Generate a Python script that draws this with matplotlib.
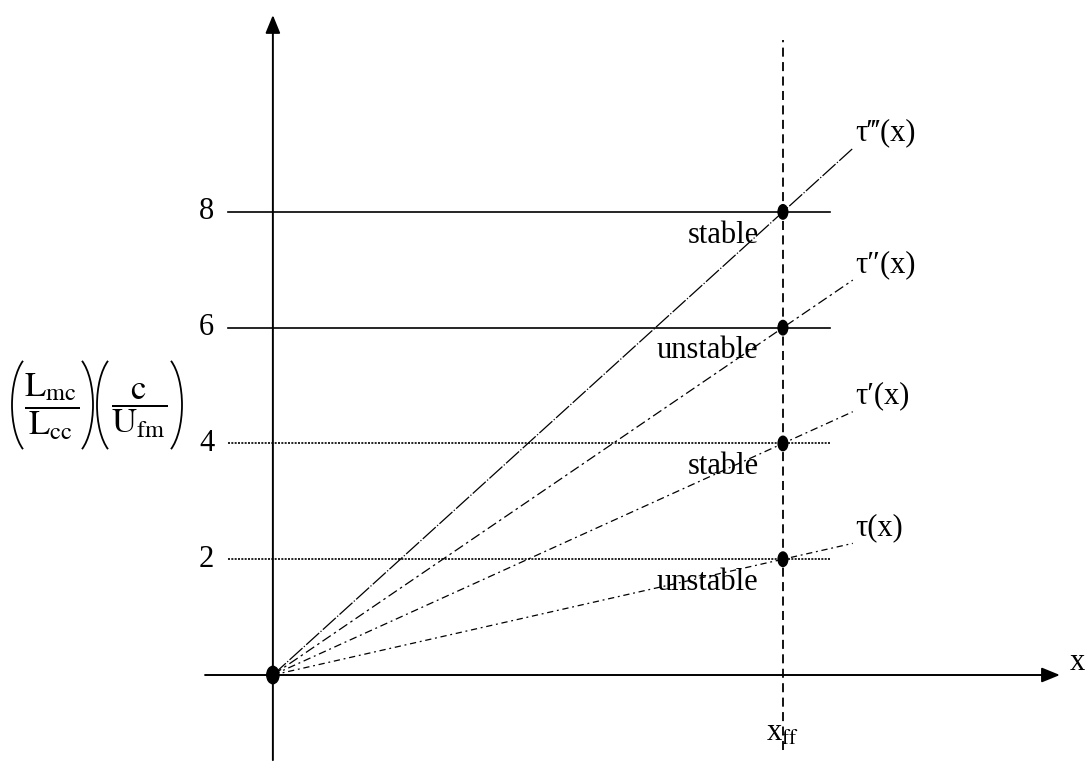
import matplotlib
matplotlib.use("Agg")
import matplotlib.pyplot as plt
import numpy as np
from matplotlib.patches import Arc, Ellipse

plt.rcParams["font.family"] = ["Liberation Serif", "DejaVu Serif"]
plt.rcParams["mathtext.fontset"] = "stix"

# Levels of the threshold lines and the tau(x) lines through them at x_ff
LEVELS = [2, 4, 6, 8]
TICK_LABELS = ["2", "4", "6", "8"]
TAU_NAMES = [r"τ(x)", r"τ′(x)", r"τ″(x)", r"τ‴(x)"]
REGION_LABELS = ["unstable", "stable", "unstable", "stable"]
X_FF = 1.0
X_END = 1.137          # where the tau lines stop

TAU_STYLES = [
    (0, (5, 3, 1.5, 3)),
    (0, (6, 3, 1.5, 3)),
    (0, (8, 3, 2, 3)),
    (0, (14, 1.5, 1, 1.5)),
]
LEVEL_STYLES = [(0, (1.2, 0.8)), (0, (1.2, 0.8)), "-", "-"]

fig = plt.figure(figsize=(10.91, 7.63), dpi=100)
ax = fig.add_axes([0, 0, 1, 1])
ax.set_xlim(-0.535, 1.604)
ax.set_ylim(-1.52, 11.66)
ax.axis("off")

# axes with arrow heads
arrow = dict(arrowstyle="-|>,head_length=1.1,head_width=0.45", color="black",
             lw=1.4, shrinkA=0, shrinkB=0)
ax.annotate("", xy=(1.543, 0), xytext=(-0.133, 0), arrowprops=arrow)
ax.annotate("", xy=(0, 11.4), xytext=(0, -1.47), arrowprops=arrow)

# vertical marker at x_ff
ax.plot([X_FF, X_FF], [-1.30, 10.97], color="black", lw=1.3,
        linestyle=(0, (5, 3)))


def dot(x, y, w=0.019, h=0.25):
    ax.add_patch(Ellipse((x, y), w, h, color="black", zorder=5))


for lvl, tick, name, region, ts, ls in zip(LEVELS, TICK_LABELS, TAU_NAMES,
                                           REGION_LABELS, TAU_STYLES,
                                           LEVEL_STYLES):
    ax.plot([-0.088, 1.092], [lvl, lvl], color="black", lw=1.2, linestyle=ls)
    ax.plot([0, X_END], [0, lvl * X_END], color="black", lw=0.9, linestyle=ts)
    dot(X_FF, lvl)
    ax.text(-0.13, lvl, tick, fontsize=22, ha="center", va="center")
    ax.text(X_END + 0.005, lvl * X_END + 0.27, name, fontsize=22,
            ha="left", va="center")
    ax.text(0.952, lvl - 0.4, region, fontsize=22, ha="right", va="center")

dot(0, 0, 0.024, 0.3)

ax.text(1.577, 0.22, "x", fontsize=22, ha="center", va="center")
ax.text(X_FF, -1.0, r"x$_{\mathrm{ff}}$", fontsize=22, ha="center",
        va="center")

# y label: two fractions in tall thin parentheses, laid out in pixel units
lab = fig.add_axes([0, 0, 1, 1])
lab.set_xlim(0, 1091)
lab.set_ylim(763, 0)
lab.axis("off")
lab.patch.set_alpha(0)

bar_y = 405
paren_w, paren_h = 44, 102
# Arc takes geometric angles; convert a +-60 deg parametric sweep
sweep = np.degrees(np.arctan(paren_h / paren_w * np.tan(np.radians(60))))


def paren(x_edge, left):
    if left:
        lab.add_patch(Arc((x_edge + paren_w / 2, bar_y), paren_w, paren_h,
                          theta1=180 - sweep, theta2=180 + sweep,
                          lw=1.3, color="black"))
    else:
        lab.add_patch(Arc((x_edge - paren_w / 2, bar_y), paren_w, paren_h,
                          theta1=-sweep, theta2=sweep,
                          lw=1.3, color="black"))


paren(12, True)
paren(93, False)
paren(97, True)
paren(182, False)

lab.text(52, bar_y + 2,
         r"$\dfrac{\mathrm{L}_{\mathrm{mc}}}{\mathrm{L}_{\mathrm{cc}}}$",
         fontsize=25, ha="center", va="center")
lab.text(139, bar_y + 6,
         r"$\dfrac{\mathrm{c}}{\mathrm{U}_{\mathrm{fm}}}$",
         fontsize=25, ha="center", va="center")

fig.savefig("out.png", dpi=100, facecolor="white")
